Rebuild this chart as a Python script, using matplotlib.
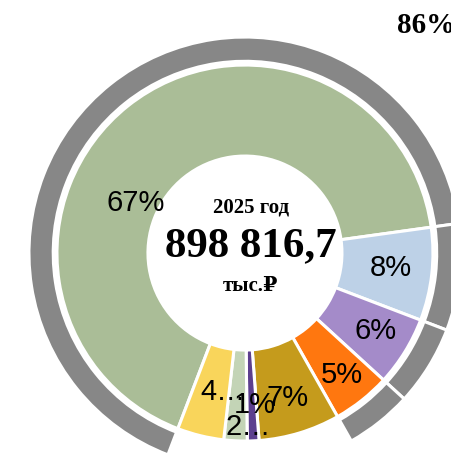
import matplotlib
matplotlib.use("Agg")
import matplotlib.pyplot as plt

# Structure of the 2025 budget (shares, %)
Shares = [67, 8, 6, 5, 7, 1, 2, 4]
ShareLabels = ["67%", "8%", "6%", "5%", "7%", "1%", "2…", "4…"]
SliceColors = ["#AABD97", "#BDD1E7", "#A48BC9", "#FF770F",
               "#C59B1C", "#5C3F8E", "#C3D4B6", "#F9D55B"]

# Outer ring: first four shares grouped (gray), the rest left blank
OuterGroup = [True, True, True, True, False, False, False, False]
GroupLabel = "86%"

YearText = "2025 год"
TotalText = "898 816,7"
UnitText = "тыс.₽"

# label positions inside the ring (data units, ring radius = 1)
LabelPos = [(-0.580, 0.271), (0.777, -0.074), (0.697, -0.410), (0.516, -0.644),
            (0.229, -0.766), (0.053, -0.803), (0.016, -0.920), (-0.117, -0.734)]

StartAngle = -110.9
HoleRadius = 0.516
Gray = "#878787"

fig = plt.figure(figsize=(4.51, 4.56), dpi=100)
ax = fig.add_axes([0, 0, 1, 1])
ax.set_aspect("equal")
ax.axis("off")

# outer gray ring
OuterColors = [Gray if g else "none" for g in OuterGroup]
OuterEdges = ["white" if g else "none" for g in OuterGroup]
wedges, _ = ax.pie(Shares, colors=OuterColors, radius=1.149, startangle=StartAngle,
                   counterclock=False, wedgeprops=dict(width=0.129, linewidth=2.2))
for w, ec in zip(wedges, OuterEdges):
    w.set_edgecolor(ec)

# inner ring
ax.pie(Shares, colors=SliceColors, radius=1.0, startangle=StartAngle,
       counterclock=False,
       wedgeprops=dict(width=1 - HoleRadius, edgecolor="white", linewidth=2.2))

ax.set_xlim(-1.303, 1.096)
ax.set_ylim(-1.074, 1.351)

for (x, y), lab in zip(LabelPos, ShareLabels):
    ax.text(x, y, lab, ha="center", va="center", fontsize=21,
            family=["Liberation Sans", "DejaVu Sans"], color="black")

serif = ["Liberation Serif", "DejaVu Serif"]
ax.text(0.03, 0.245, YearText, ha="center", va="center", fontsize=15,
        fontweight="bold", family=serif)
ax.text(0.03, 0.04, TotalText, ha="center", va="center", fontsize=31,
        fontweight="bold", family=serif)
ax.text(0.03, -0.17, UnitText, ha="center", va="center", fontsize=15,
        fontweight="bold", family=serif)

ax.text(0.8096, 1.213, GroupLabel, ha="left", va="center", fontsize=21,
        fontweight="bold", family=serif)

fig.savefig("out.png", dpi=100)
